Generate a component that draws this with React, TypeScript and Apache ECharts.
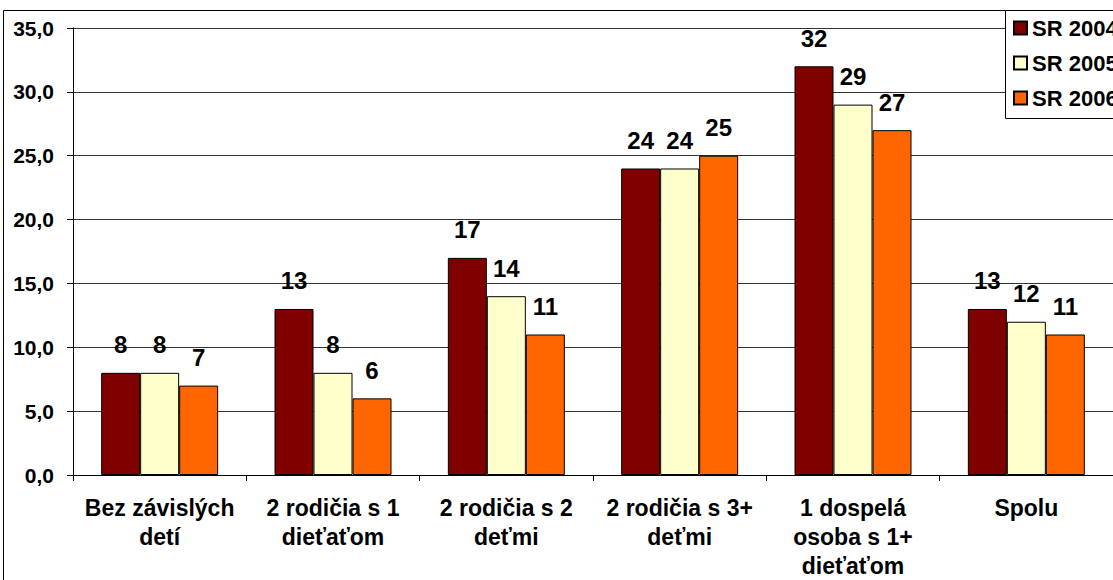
import React, { useEffect, useRef } from "react";
import * as echarts from "echarts";

// Household types on the category axis
const categories: string[] = [
  "Bez závislých\ndetí",
  "2 rodičia s 1\ndieťaťom",
  "2 rodičia s 2\ndeťmi",
  "2 rodičia s 3+\ndeťmi",
  "1 dospelá\nosoba s 1+\ndieťaťom",
  "Spolu",
];

// Values per year
const sr2004: number[] = [8, 13, 17, 24, 32, 13];
const sr2005: number[] = [8, 8, 14, 24, 29, 12];
const sr2006: number[] = [7, 6, 11, 25, 27, 11];

const seriesNames: string[] = ["SR 2004", "SR 2005", "SR 2006"];
const seriesColors: string[] = ["#800000", "#FFFFCC", "#FF6600"];

const FONT = "'Liberation Sans', Arial, sans-serif";

// The chart canvas is wider than the visible frame so the legend box
// and outer border run past the right edge, as in the original sheet.
const VIEW_W = 1113;
const VIEW_H = 580;
const CANVAS_W = 1300;

export default function App() {
  const ref = useRef<HTMLDivElement>(null);

  useEffect(() => {
    document.body.style.margin = "0";
    document.body.style.overflow = "hidden";
    if (!ref.current) return;
    const chart = echarts.init(ref.current, null, { renderer: "svg" });

    const data = [sr2004, sr2005, sr2006];

    chart.setOption({
      animation: false,
      backgroundColor: "#fff",
      textStyle: { fontFamily: FONT },
      grid: { left: 73, top: 28, right: CANVAS_W - VIEW_W, bottom: 105, containLabel: false },
      legend: {
        orient: "vertical",
        left: 1005,
        top: 10,
        padding: [7, 0, 9, 8],
        itemWidth: 13,
        itemHeight: 13,
        itemGap: 13,
        icon: "rect",
        textStyle: {
          fontFamily: FONT,
          fontSize: 22,
          fontWeight: "bold",
          color: "#000",
          lineHeight: 22,
        },
        data: seriesNames,
      },
      graphic: [
        {
          // outer chart-area frame
          type: "rect",
          silent: true,
          z: -10,
          shape: { x: 3.5, y: 10.5, width: 1400, height: 800 },
          style: { fill: "none", stroke: "#000", lineWidth: 1 },
        },
        {
          // legend box
          type: "rect",
          silent: true,
          z: 3,
          shape: { x: 1005.5, y: 10.5, width: 300, height: 108 },
          style: { fill: "#fff", stroke: "#000", lineWidth: 1 },
        },
      ],
      xAxis: {
        type: "category",
        data: categories,
        boundaryGap: true,
        axisLine: { lineStyle: { color: "#000", width: 1 } },
        axisTick: { show: true, length: 6, inside: false, lineStyle: { color: "#000" } },
        axisLabel: {
          interval: 0,
          margin: 18,
          color: "#000",
          fontFamily: FONT,
          fontSize: 23,
          fontWeight: "bold",
          lineHeight: 29,
        },
        splitLine: { show: false },
      },
      yAxis: {
        type: "value",
        min: 0,
        max: 35,
        interval: 5,
        axisLine: { show: true, lineStyle: { color: "#000", width: 1 } },
        axisTick: { show: true, length: 6, lineStyle: { color: "#000" } },
        axisLabel: {
          margin: 19,
          color: "#000",
          fontFamily: FONT,
          fontSize: 21,
          fontWeight: "bold",
          formatter: (v: number) => v.toFixed(1).replace(".", ","),
        },
        splitLine: { show: true, lineStyle: { color: "#333", width: 1 } },
      },
      series: seriesNames.map((name, i) => ({
        name,
        type: "bar",
        data: data[i],
        barGap: "0%",
        barCategoryGap: "32.5%",
        itemStyle: { color: seriesColors[i], borderColor: "#000", borderWidth: 1 },
        label: {
          show: true,
          position: "top",
          distance: 16,
          color: "#000",
          fontFamily: FONT,
          fontSize: 24,
          fontWeight: "bold",
        },
      })),
    });

    return () => chart.dispose();
  }, []);

  return (
    <div style={{ width: VIEW_W, height: VIEW_H, overflow: "hidden", position: "relative" }}>
      <div ref={ref} style={{ width: CANVAS_W, height: VIEW_H }} />
    </div>
  );
}
